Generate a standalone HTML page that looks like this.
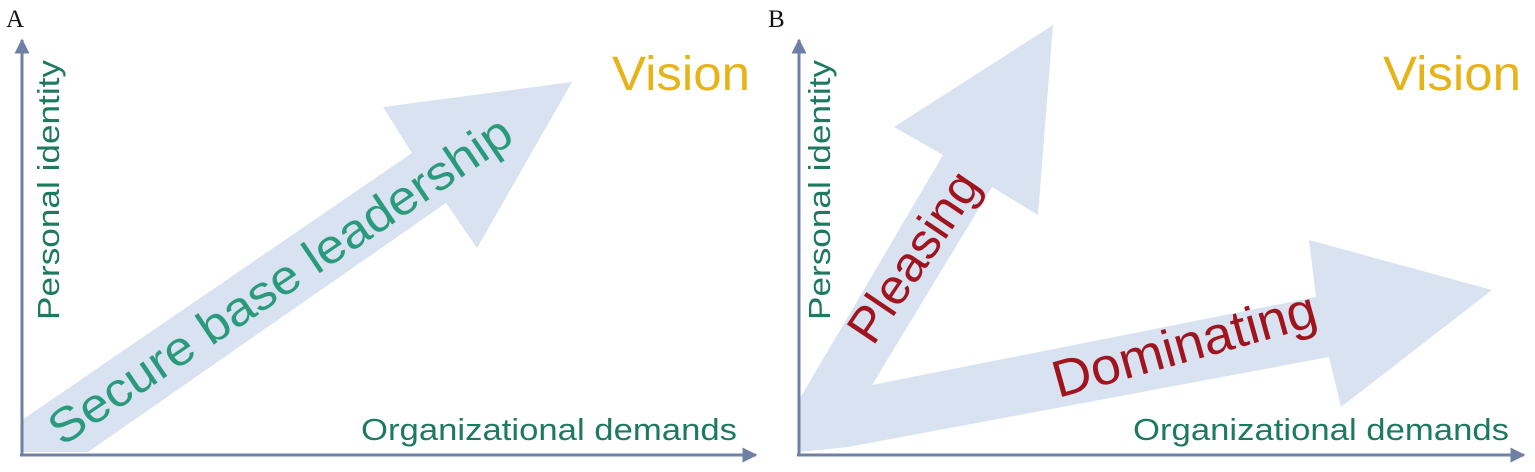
<!DOCTYPE html>
<html><head><meta charset="utf-8"><style>
html,body{margin:0;padding:0;background:#fff;}
svg{display:block;}
</style></head><body>
<svg width="1535" height="472" viewBox="0 0 1535 472" xmlns="http://www.w3.org/2000/svg">
<defs>
<marker id="ah" viewBox="0 0 10 10" refX="9" refY="5" markerWidth="5" markerHeight="5" orient="auto">
<path d="M0,0 L10,5 L0,10 z" fill="#7080a4"/></marker>
</defs>
<!-- Panel A -->
<text x="6" y="27" font-family="Liberation Serif, serif" font-size="25" fill="#111">A</text>
<polygon points="22,420 412,153 383,107 572,82 477,248 446,203 88,452 22,452" fill="#d9e2f1"/>
<line x1="22" y1="455" x2="22" y2="40" stroke="#7080a4" stroke-width="3" marker-end="url(#ah)"/>
<line x1="20" y1="455" x2="756" y2="455" stroke="#7080a4" stroke-width="3" marker-end="url(#ah)"/>
<text x="612" y="90" font-family="Liberation Sans, sans-serif" font-size="48" fill="#e6b319" textLength="138" lengthAdjust="spacingAndGlyphs">Vision</text>
<text transform="translate(59,320) rotate(-90)" font-family="Liberation Sans, sans-serif" font-size="31" fill="#1d7a5f" textLength="260" lengthAdjust="spacingAndGlyphs">Personal identity</text>
<text x="361" y="440" font-family="Liberation Sans, sans-serif" font-size="31" fill="#1d7a5f" textLength="376" lengthAdjust="spacingAndGlyphs">Organizational demands</text>
<text transform="translate(62,447) rotate(-34)" font-family="Liberation Sans, sans-serif" font-size="48" fill="#2a9a7d" textLength="548" lengthAdjust="spacingAndGlyphs">Secure base leadership</text>
<!-- Panel B -->
<text x="768" y="27" font-family="Liberation Serif, serif" font-size="25" fill="#111">B</text>
<polygon points="799,452 848,447 1329,357 1341,407 1492,290 1309,240 1316,297 872,385 992,187 1038,215 1053,25 894,127 943,155 799,400" fill="#d9e2f1"/>
<line x1="799" y1="455" x2="799" y2="40" stroke="#7080a4" stroke-width="3" marker-end="url(#ah)"/>
<line x1="797" y1="455" x2="1524" y2="455" stroke="#7080a4" stroke-width="3" marker-end="url(#ah)"/>
<text x="1383" y="90" font-family="Liberation Sans, sans-serif" font-size="48" fill="#e6b319" textLength="138" lengthAdjust="spacingAndGlyphs">Vision</text>
<text transform="translate(830,320) rotate(-90)" font-family="Liberation Sans, sans-serif" font-size="31" fill="#1d7a5f" textLength="260" lengthAdjust="spacingAndGlyphs">Personal identity</text>
<text x="1133" y="440" font-family="Liberation Sans, sans-serif" font-size="31" fill="#1d7a5f" textLength="376" lengthAdjust="spacingAndGlyphs">Organizational demands</text>
<text transform="translate(873,347) rotate(-56)" font-family="Liberation Sans, sans-serif" font-size="50" fill="#a0141e" textLength="195" lengthAdjust="spacingAndGlyphs">Pleasing</text>
<text transform="translate(1058,398) rotate(-15.6)" font-family="Liberation Sans, sans-serif" font-size="52" fill="#a0141e" textLength="272" lengthAdjust="spacingAndGlyphs">Dominating</text>
</svg>
</body></html>
